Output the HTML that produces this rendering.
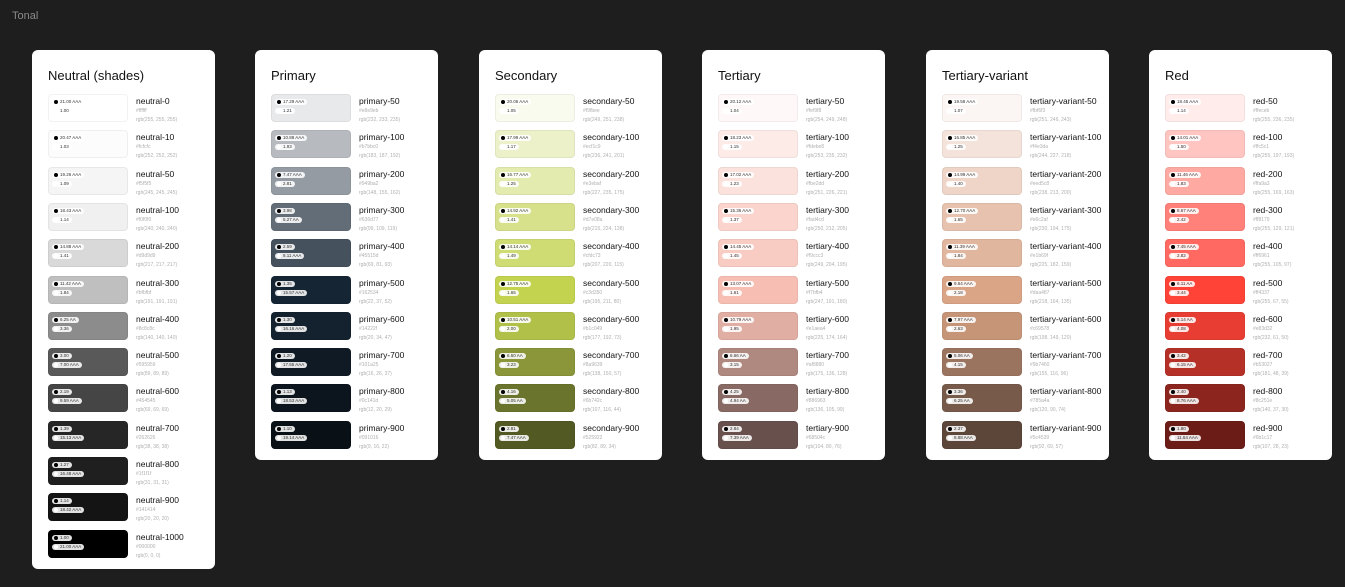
<!DOCTYPE html>
<html><head><meta charset="utf-8"><style>
body{margin:0;width:1345px;height:587px;background:#1e1e1e;font-family:"Liberation Sans",sans-serif;position:relative;overflow:hidden}
#tonal{position:absolute;left:12px;top:10px;color:#8a8a8a;font-size:11px}
.card{position:absolute;top:50px;width:183px;background:#fff;border-radius:6px;overflow:hidden}
.card h2{position:absolute;left:16px;top:18px;margin:0;font-size:13px;font-weight:normal;color:#111}
.sw{position:absolute;left:16px;width:80px;height:28px;border-radius:4px;box-sizing:border-box;border:1px solid rgba(0,0,0,0.05)}
.pill{position:absolute;left:3px;height:6px;border-radius:3px;background:rgba(255,255,255,0.88);font-size:4.5px;line-height:6px;color:#333;padding:0 3px 0 8px;white-space:nowrap}
.pill i{position:absolute;left:1.5px;top:1px;width:4px;height:4px;border-radius:50%}
.nm{position:absolute;left:104px;font-size:8.5px;color:#111;white-space:nowrap;width:76px;overflow:hidden}
.sub{position:absolute;left:104px;font-size:5px;color:#b0b0b0;white-space:nowrap}
</style></head><body>
<div id="tonal">Tonal</div>
<div id="root"></div>
<script>
const paletteTitles=["Neutral (shades)","Primary","Secondary","Tertiary","Tertiary-variant","Red"];
const palettePrefixes=["neutral","primary","secondary","tertiary","tertiary-variant","red"];
const neutralSteps=["0","10","50","100","200","300","400","500","600","700","800","900","1000"];
const stdSteps=["50","100","200","300","400","500","600","700","800","900"];
const neutralHex=["ffffff","fcfcfc","f5f5f5","f0f0f0","d9d9d9","bfbfbf","8c8c8c","595959","454545","262626","1f1f1f","141414","000000"];
const primaryHex=["e8e9eb","b7bbc0","949ba2","636d77","45515d","162534","14222f","101a25","0c141d","091016"];
const secondaryHex=["f9fbee","ecf1c9","e3ebaf","d7e08a","cfdc73","c3d350","b1c049","8a9639","6b742c","525922"];
const tertiaryHex=["fef9f8","fdebe8","fbe2dd","fad4cd","f9ccc3","f7bfb4","e1aea4","af8880","886963","68504c"];
const tvHex=["fbf6f3","f4e3da","eed5c8","e6c2af","e1b69f","daa487","c69578","9b7460","785a4a","5c4539"];
const redHex=["ffeceb","ffc5c1","ffa9a3","ff8179","ff6961","ff4337","e83d32","b53027","8c251e","6b1c17"];
const allHex=[neutralHex,primaryHex,secondaryHex,tertiaryHex,tvHex,redHex];
const cardLefts=[32,255,479,702,926,1149];
function lum(h){const c=[0,2,4].map(i=>{let v=parseInt(h.substr(i,2),16)/255;return v<=0.03928?v/12.92:Math.pow((v+0.055)/1.055,2.4)});return 0.2126*c[0]+0.7152*c[1]+0.0722*c[2];}
function tag(r){return r>=7?" AAA ":r>=4.5?" AA ":"";}
const root=document.getElementById('root');
allHex.forEach((hexes,p)=>{
  const steps=p===0?neutralSteps:stdSteps;
  const card=document.createElement('div');
  card.className='card';
  
  
  card.style.left=cardLefts[p]+'px';
  card.style.height=(p===0?519:410)+'px';
  const h=document.createElement('h2');
  h.textContent=paletteTitles[p];
  
  
  card.appendChild(h);
  hexes.forEach((hx,i)=>{
    const y=44+i*36.3;
    const L=lum(hx);
    const cb=(L+0.05)/0.05, cw=1.05/(L+0.05);
    const sw=document.createElement('div');
    sw.className='sw';
    
    
    sw.style.top=y+'px';sw.style.background='#'+hx;
    const p1=document.createElement('div');p1.className='pill';p1.style.top='4px';
    
    
    p1.innerHTML='<i style="background:#000"></i>'+cb.toFixed(2)+tag(cb);
    const p2=document.createElement('div');p2.className='pill';p2.style.top='13px';
    
    
    p2.innerHTML='<i style="background:#fff"></i>'+cw.toFixed(2)+tag(cw);
    sw.appendChild(p1);sw.appendChild(p2);card.appendChild(sw);
    const nm=document.createElement('div');nm.className='nm';nm.style.top=(y+2)+'px';
    
    
    nm.textContent=palettePrefixes[p]+'-'+steps[i];card.appendChild(nm);
    const hxe=document.createElement('div');hxe.className='sub';hxe.style.top=(y+14)+'px';
    
    
    hxe.textContent='#'+hx;card.appendChild(hxe);
    const rg=document.createElement('div');rg.className='sub';rg.style.top=(y+23)+'px';
    
    
    rg.textContent='rgb('+[0,2,4].map(k=>parseInt(hx.substr(k,2),16)).join(', ')+')';card.appendChild(rg);
  });
  root.appendChild(card);
});
</script>
</body></html>
